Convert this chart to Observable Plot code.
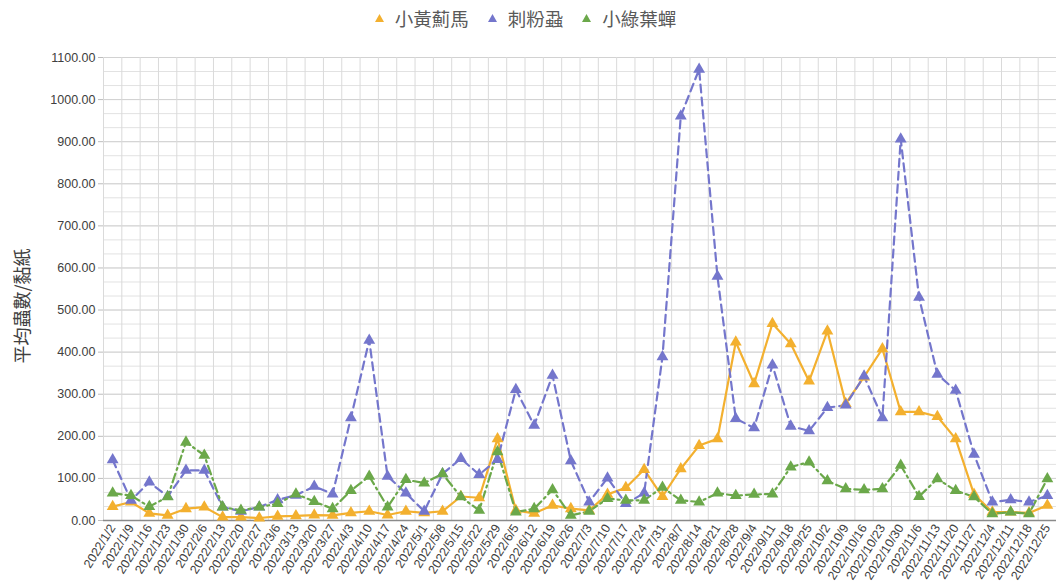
<!DOCTYPE html>
<html><head><meta charset="utf-8">
<script src="https://cdn.jsdelivr.net/npm/d3@7"></script>
<script src="https://cdn.jsdelivr.net/npm/@observablehq/plot@0.6"></script>
<style>
body{margin:0;background:#fff;font-family:"Liberation Sans",Arial,sans-serif;}
#legend{height:36px;display:flex;justify-content:center;align-items:center;padding-left:14px;box-sizing:border-box;font-family:"Noto Sans CJK TC","Noto Sans CJK SC",sans-serif;font-size:18.5px;color:#595959;}
.item{display:flex;align-items:center;margin-right:19px;}
.item svg{margin-right:11px;}
#chart svg{display:block;}
</style></head><body>
<div id="legend"></div><div id="chart"></div>
<script>
const dates = ["2022/1/2","2022/1/9","2022/1/16","2022/1/23","2022/1/30","2022/2/6","2022/2/13","2022/2/20","2022/2/27","2022/3/6","2022/3/13","2022/3/20","2022/3/27","2022/4/3","2022/4/10","2022/4/17","2022/4/24","2022/5/1","2022/5/8","2022/5/15","2022/5/22","2022/5/29","2022/6/5","2022/6/12","2022/6/19","2022/6/26","2022/7/3","2022/7/10","2022/7/17","2022/7/24","2022/7/31","2022/8/7","2022/8/14","2022/8/21","2022/8/28","2022/9/4","2022/9/11","2022/9/18","2022/9/25","2022/10/2","2022/10/9","2022/10/16","2022/10/23","2022/10/30","2022/11/6","2022/11/13","2022/11/20","2022/11/27","2022/12/4","2022/12/11","2022/12/18","2022/12/25"];
// 小黃薊馬
const thrips = [33,44,17,12,28,32,8,8,6,10,11,13,12,18,22,13,22,18,22,57,54,194,24,17,36,28,24,62,78,121,57,123,178,194,424,325,468,420,331,450,278,341,408,258,258,247,194,62,20,20,18,36];
// 刺粉蝨
const whitefly = [144,48,91,57,119,119,32,22,32,49,60,81,63,244,428,105,65,22,111,147,109,145,311,226,345,142,44,101,40,65,389,961,1072,580,242,220,369,224,213,268,274,343,244,906,530,347,309,157,44,49,44,59];
// 小綠葉蟬
const leafhopper = [65,59,33,56,186,155,32,24,32,40,63,45,28,71,105,32,97,89,111,56,24,163,20,28,73,12,22,52,48,48,79,48,44,65,59,62,63,127,139,94,75,73,75,131,57,99,71,56,16,20,16,99];

const seriesNames = ["小黃薊馬","刺粉蝨","小綠葉蟬"];
const seriesValues = [thrips, whitefly, leafhopper];
const colors = ["#F3B02F","#7476CC","#6BA84A"];
const dashes = [null, "8,5", "9,4,2,4"];
const yTicks = [0,100,200,300,400,500,600,700,800,900,1000,1100];
const yLabel = "平均蟲數/黏紙";

// legend
const legend = document.getElementById("legend");
seriesNames.forEach((s,k)=>{
  const it = document.createElement("div");
  it.className = "item";
  it.innerHTML = `<svg width="9" height="8"><polygon points="4.5,0 9,8 0,8" fill="${colors[k]}"/></svg><span>${s}</span>`;
  legend.appendChild(it);
});

const n = dates.length;
const idx = d3.range(n);
const rows = [];
seriesNames.forEach((s,k)=>seriesValues[k].forEach((v,i)=>rows.push({i, v, s, k})));
const minor = d3.range(0, 1100.01, 100/3);
const bounds = d3.range(0, n+1).map(i=>i-0.5);

const marks = [
  Plot.ruleY(minor, {stroke:"#e2e2e2", strokeWidth:1}),
  Plot.ruleY(yTicks, {stroke:"#d2d2d2", strokeWidth:1}),
  Plot.ruleX(bounds, {stroke:"#dadada", strokeWidth:1}),
  Plot.axisY({ticks:yTicks, tickFormat:d3.format(".2f"), tickSize:5, tickPadding:3, label:null, stroke:"#bdbdbd", fill:"#404040", fontSize:12.5}),
  Plot.axisX({ticks:idx, tickFormat:i=>dates[i], tickRotate:-58, tickSize:0, tickPadding:5, label:null, fill:"#404040", fontSize:12.5}),
  Plot.ruleY([0], {stroke:"#8a8a8a", strokeWidth:1.5}),
];
seriesNames.forEach((s,k)=>{
  const d = rows.filter(r=>r.k===k);
  marks.push(Plot.line(d, {x:"i", y:"v", stroke:colors[k], strokeWidth:2.2, strokeDasharray:dashes[k]}));
});
seriesNames.forEach((s,k)=>{
  const d = rows.filter(r=>r.k===k);
  marks.push(Plot.dot(d, {x:"i", y:"v", symbol:"triangle", r:4.4, fill:colors[k], stroke:"none"}));
});
marks.push(Plot.text([yLabel], {frameAnchor:"left", textAnchor:"middle", dx:-80, dy:17, rotate:-90, fontSize:18, fill:"#404040", fontFamily:"Noto Sans CJK TC"}));

const plot = Plot.plot({
  width:1056, height:546,
  marginLeft:103, marginRight:0, marginTop:21, marginBottom:62,
  x:{type:"linear", domain:[-0.5, n-0.5], axis:null},
  y:{domain:[0,1100], axis:null},
  style:{fontFamily:"'Liberation Sans', Arial, sans-serif", fontSize:"12px", background:"#fff", overflow:"visible"},
  marks
});
document.getElementById("chart").appendChild(plot);
</script>
</body></html>
